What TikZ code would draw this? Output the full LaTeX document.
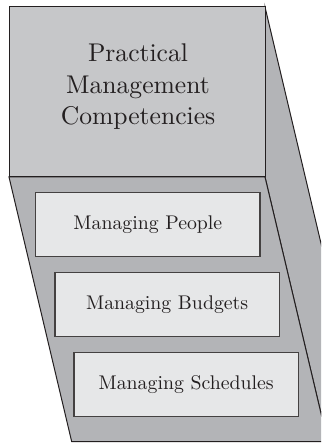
\documentclass[tikz,border=0pt]{standalone}
\usepackage{fontspec}
\setmainfont{lmroman10-regular.otf}
\usetikzlibrary{calc}
\definecolor{frontgray}{HTML}{C6C7C9}
\definecolor{sidegray}{HTML}{B3B4B7}
\definecolor{boxgray}{HTML}{E6E7E8}
\definecolor{edge}{HTML}{231F20}
\tikzset{
  face/.style={fill=sidegray, draw=edge, line width=1pt, line join=miter},
  frontface/.style={fill=frontgray, draw=edge, line width=1pt},
  skill/.style={draw=edge!85, line width=1.3pt, fill=boxgray, minimum width=224.3pt, minimum height=64pt, inner sep=0pt, text=edge, font=\fontsize{19.8}{23}\selectfont},
  titletext/.style={align=center, font=\fontsize{25.6}{31.5}\selectfont, text=edge}
}
\begin{document}
\begin{tikzpicture}[x=1pt,y=-1pt]
\useasboundingbox (0,0) rectangle (321,443);
\clip (0,0) rectangle (321,443);
% extrusion faces
\coordinate (ftl) at (9,7);
\coordinate (ftr) at (265,7);
\coordinate (fbr) at (265,177);
\coordinate (fbl) at (9,177);
\coordinate (d) at (62.7,264.7);
\draw[face] (ftr) -- ($(ftr)+(d)$) -- ($(fbr)+(d)$) -- (fbr) -- cycle;
\draw[face] (fbl) -- (fbr) -- ($(fbr)+(d)$) -- ($(fbl)+(d)$) -- cycle;
\draw[frontface] (ftl) rectangle (fbr);
\node[titletext] (title) at (138,87) {Practical\\Management\\Competencies};
\node[skill] (people) at (147.85,224.7) {Managing People};
\node[skill] (budgets) at (167.15,304.7) {Managing Budgets};
\node[skill] (schedules) at (186.15,384.7) {Managing Schedules};
\end{tikzpicture}
\end{document}
